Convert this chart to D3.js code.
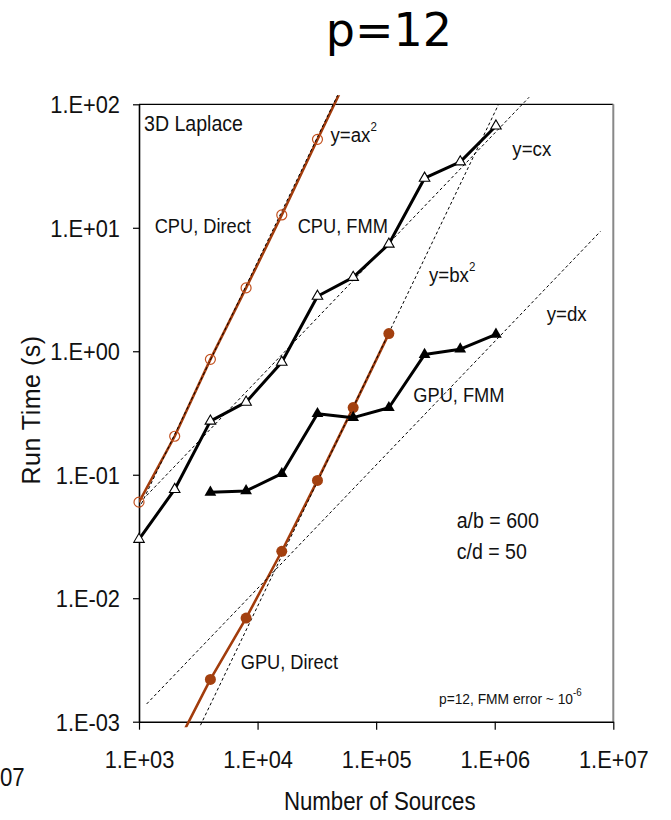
<!DOCTYPE html>
<html>
<head>
<meta charset="utf-8">
<script src="https://cdn.jsdelivr.net/npm/d3@7"></script>
<style>
  body { margin: 0; background: #fff; }
  svg { font-family: "Liberation Sans", Arial, sans-serif; }
</style>
</head>
<body>
<div id="chart"></div>
<script>
// number of sources (x) and run times in seconds (y)
var cpuDirectN = [1000, 2000, 4000, 8000, 16000, 32000, 64000];
var cpuDirectT = [0.06, 0.205, 0.86, 3.26, 12.7, 52, 208];

var gpuDirectN = [2000, 4000, 8000, 16000, 32000, 64000, 128000];
var gpuDirectT = [0.0006, 0.0022, 0.0069, 0.024, 0.09, 0.35, 1.39];

var cpuFmmN = [1000, 2000, 4000, 8000, 16000, 32000, 64000, 128000, 256000, 512000, 1024000];
var cpuFmmT = [0.03, 0.076, 0.272, 0.387, 0.815, 2.79, 3.97, 7.38, 25.2, 34.2, 66.7];

var gpuFmmN = [4000, 8000, 16000, 32000, 64000, 128000, 256000, 512000, 1024000];
var gpuFmmT = [0.072, 0.074, 0.102, 0.312, 0.29, 0.349, 0.94, 1.04, 1.37];

// fitted lines y = a x^2, b x^2, c x, d x  and the x range each one spans
var fitA = 5.3e-8, fitB = 8.6e-11, fitC = 5.85e-5, fitD = 1.2e-6;
var fitARange = [1000, 50000];
var fitBRange = [3300, 1.08e6];
var fitCRange = [1160, 1.95e6];
var fitDRange = [1160, 7.8e6];

var xTicks = [1e3, 1e4, 1e5, 1e6, 1e7];
var yTicks = [1e-3, 1e-2, 1e-1, 1e0, 1e1, 1e2];

var brown = "#a23c0c";
var squeeze = 0.89;   // the original labels are set in a narrow face

var svgWidth = 671, svgHeight = 820;
var margin = { top: 104.3, left: 139, right: 57.7, bottom: 98.3 };
var width = svgWidth - margin.left - margin.right;
var height = svgHeight - margin.top - margin.bottom;

var svg = d3.select("#chart").append("svg")
    .attr("width", svgWidth)
    .attr("height", svgHeight);

var chartGroup = svg.append("g")
    .attr("transform", `translate(${margin.left}, ${margin.top})`);

var xScale = d3.scaleLog().domain([1e3, 1e7]).range([0, width]);
var yScale = d3.scaleLog().domain([1e-3, 1e2]).range([height, 0]);

// narrow text helper
function label(sel, x, y, str, size, anchor) {
    return sel.append("text")
        .attr("transform", `translate(${x},${y}) scale(${squeeze},1)`)
        .attr("font-size", size)
        .attr("text-anchor", anchor || "start")
        .attr("fill", "#111")
        .text(str);
}

function fmt(d) {
    var e = Math.round(Math.log10(d));
    return "1.E" + (e < 0 ? "-" : "+") + String(Math.abs(e)).padStart(2, "0");
}

// frame: top black, right grey
chartGroup.append("line")
    .attr("x1", 0).attr("x2", width).attr("y1", 0).attr("y2", 0)
    .attr("stroke", "#000").attr("stroke-width", 1.2);
chartGroup.append("line")
    .attr("x1", width).attr("x2", width).attr("y1", 0).attr("y2", height)
    .attr("stroke", "#888").attr("stroke-width", 2);

// axes
var bottomAxis = d3.axisBottom(xScale).tickValues(xTicks).tickFormat(fmt)
    .tickSize(8).tickSizeOuter(0);
var leftAxis = d3.axisLeft(yScale).tickValues(yTicks).tickFormat(fmt)
    .tickSize(6).tickSizeOuter(0);

var xAxisG = chartGroup.append("g")
    .attr("transform", `translate(0, ${height})`)
    .call(bottomAxis);
var yAxisG = chartGroup.append("g").call(leftAxis);

[xAxisG, yAxisG].forEach(function(g) {
    g.select(".domain").attr("stroke", "#000").attr("stroke-width", 1.6);
    g.selectAll(".tick line").attr("stroke", "#000").attr("stroke-width", 1.2);
    g.selectAll(".tick text")
        .attr("font-family", "Liberation Sans, Arial, sans-serif")
        .attr("font-size", 24.5)
        .attr("fill", "#111");
});
xAxisG.selectAll(".tick text")
    .attr("y", 0).attr("dy", 0)
    .attr("transform", `translate(0,46.5) scale(${squeeze},1)`);
yAxisG.selectAll(".tick text")
    .attr("x", 0).attr("dy", "0.34em")
    .attr("transform", `translate(-19,0) scale(${squeeze},1)`);

// clip (lines spill a little over top and bottom like the original)
svg.append("clipPath").attr("id", "plotclip")
    .append("rect")
    .attr("x", 0).attr("y", -9)
    .attr("width", width).attr("height", height + 14.5);

var plot = chartGroup.append("g").attr("clip-path", "url(#plotclip)");

var line = d3.line()
    .x(d => xScale(d[0]))
    .y(d => yScale(d[1]));

function pairs(xs, ys) { return xs.map((x, i) => [x, ys[i]]); }

var cpuDirect = pairs(cpuDirectN, cpuDirectT);
var gpuDirect = pairs(gpuDirectN, gpuDirectT);
var cpuFmm = pairs(cpuFmmN, cpuFmmT);
var gpuFmm = pairs(gpuFmmN, gpuFmmT);

// direct (brown) lines
[cpuDirect, gpuDirect].forEach(function(s) {
    plot.append("path").datum(s)
        .attr("d", line)
        .attr("fill", "none")
        .attr("stroke", brown)
        .attr("stroke-width", 2.6);
});

// fmm (black) lines
[cpuFmm, gpuFmm].forEach(function(s) {
    plot.append("path").datum(s)
        .attr("d", line)
        .attr("fill", "none")
        .attr("stroke", "#000")
        .attr("stroke-width", 3)
        .attr("stroke-linejoin", "round");
});

// fitted dashed lines
var fits = [
    { f: x => fitA * x * x, r: fitARange },
    { f: x => fitB * x * x, r: fitBRange },
    { f: x => fitC * x, r: fitCRange },
    { f: x => fitD * x, r: fitDRange }
];
fits.forEach(function(ft) {
    plot.append("path")
        .datum(ft.r.map(x => [x, ft.f(x)]))
        .attr("d", line)
        .attr("fill", "none")
        .attr("stroke", "#000")
        .attr("stroke-width", 1)
        .attr("stroke-dasharray", "3,2.5");
});

function inside(d) {
    return d[1] >= 1e-3 && d[1] <= 1e2 && d[0] >= 1e3 && d[0] <= 1e7;
}

// markers
chartGroup.selectAll(".cpuDirectPt")
    .data(cpuDirect.filter(inside))
    .enter().append("circle")
    .attr("cx", d => xScale(d[0]))
    .attr("cy", d => yScale(d[1]))
    .attr("r", 5)
    .attr("fill", "none")
    .attr("stroke", "#c2501e")
    .attr("stroke-width", 1.2);

chartGroup.selectAll(".gpuDirectPt")
    .data(gpuDirect.filter(inside))
    .enter().append("circle")
    .attr("cx", d => xScale(d[0]))
    .attr("cy", d => yScale(d[1]))
    .attr("r", 5.5)
    .attr("fill", "#a3400f");

var tri = d3.symbol().type(d3.symbolTriangle);

chartGroup.selectAll(".cpuFmmPt")
    .data(cpuFmm.filter(inside))
    .enter().append("path")
    .attr("transform", d => `translate(${xScale(d[0])},${yScale(d[1])})`)
    .attr("d", tri.size(48)())
    .attr("fill", "#fff")
    .attr("stroke", "#000")
    .attr("stroke-width", 1.1);

chartGroup.selectAll(".gpuFmmPt")
    .data(gpuFmm.filter(inside))
    .enter().append("path")
    .attr("transform", d => `translate(${xScale(d[0])},${yScale(d[1])})`)
    .attr("d", tri.size(60)())
    .attr("fill", "#000");

// annotations (page coordinates)
var notes = svg.append("g");
label(notes, 144, 131, "3D Laplace", 22);
var t;
t = label(notes, 330.5, 141.5, "y=ax", 21);
t.append("tspan").attr("dy", -11).attr("font-size", 13).text("2");
label(notes, 154.7, 233.3, "CPU, Direct", 20.5);
label(notes, 297.7, 233.3, "CPU, FMM", 20.5);
label(notes, 512.3, 155.5, "y=cx", 21);
t = label(notes, 429, 282, "y=bx", 21);
t.append("tspan").attr("dy", -11).attr("font-size", 13).text("2");
label(notes, 546.7, 320.7, "y=dx", 21);
label(notes, 413.3, 402, "GPU, FMM", 20.5);
label(notes, 240.7, 669, "GPU, Direct", 20.5);
label(notes, 456.7, 527.5, "a/b = 600", 22);
label(notes, 456.7, 558.5, "c/d = 50", 22);
t = label(notes, 439, 703.5, "p=12, FMM error  ~ 10", 15.5);
t.append("tspan").attr("dy", -8).attr("font-size", 11).text("-6");

// axis titles
label(svg, 379.7, 810, "Number of Sources", 25, "middle");
svg.append("text")
    .attr("transform", "translate(40,410) rotate(-90)")
    .attr("text-anchor", "middle")
    .attr("font-size", 25)
    .attr("letter-spacing", 0.5)
    .attr("fill", "#111")
    .text("Run Time (s)");

// leftover tick label of the neighbouring panel
label(svg, 0, 786, "07", 25);

// title
svg.append("text")
    .attr("x", 389)
    .attr("y", 46)
    .attr("text-anchor", "middle")
    .attr("font-family", "DejaVu Sans, sans-serif")
    .attr("font-size", 46)
    .attr("fill", "#000")
    .text("p=12");
</script>
</body>
</html>
